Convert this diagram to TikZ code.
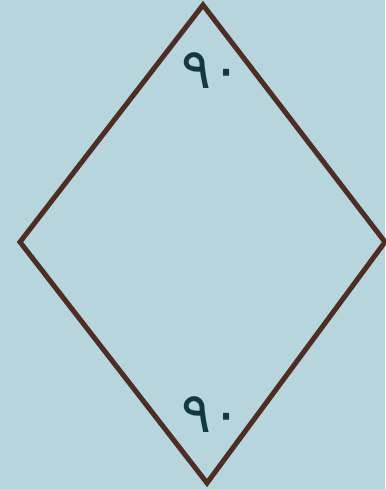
\documentclass[tikz,border=0pt]{standalone}
\usepackage{fontspec}
\newfontfamily\arabicfont{DejaVu Sans}
\definecolor{bg}{HTML}{B7D5DD}
\definecolor{edge}{HTML}{4E2E22}
\definecolor{lbl}{HTML}{123840}
\tikzset{
  side/.style={draw=edge, line width=5pt, line join=miter},
  anglbl/.style={text=lbl, font=\arabicfont\fontsize{56}{56}\selectfont, inner sep=0pt}
}
\begin{document}
\begin{tikzpicture}[x=1pt,y=-1pt]
\fill[bg] (0,0) rectangle (385,489);
\useasboundingbox (0,0) rectangle (385,489);
\coordinate (T) at (203,5);
\coordinate (L) at (20,242);
\coordinate (B) at (207,483);
\coordinate (R) at (385,242);
\draw[side] (T) -- (L) -- (B) -- (R) -- cycle;
\node[anglbl] (a1) at (212,71) {٩٠};
\node[anglbl] (a2) at (212,415) {٩٠};
\end{tikzpicture}
\end{document}
